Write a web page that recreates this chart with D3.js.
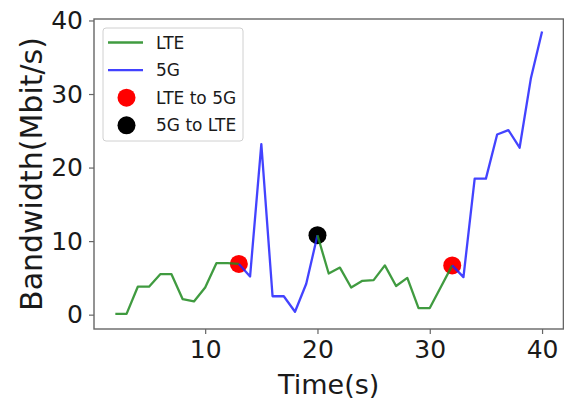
<!DOCTYPE html>
<html>
<head>
<meta charset="utf-8">
<script src="https://cdn.jsdelivr.net/npm/d3@7"></script>
<style>
  html, body { margin: 0; padding: 0; background: #fff; }
  svg { display: block; font-family: "DejaVu Sans", sans-serif; }
</style>
</head>
<body>
<svg id="chart" width="564" height="399"></svg>
<script>
// Data
const times = [2, 3, 4, 5, 6, 7, 8, 9, 10, 11, 12, 13, 14, 15, 16, 17, 18, 19, 20, 21,
  22, 23, 24, 25, 26, 27, 28, 29, 30, 31, 32, 33, 34, 35, 36, 37, 38, 39, 40];
const bandwidth = [0.1, 0.1, 3.8, 3.8, 5.5, 5.5, 2.1, 1.8, 3.7, 7.0, 7.0, 6.9, 5.2, 23.2, 2.5, 2.5, 0.4, 4.2, 10.8, 5.6,
  6.4, 3.7, 4.6, 4.7, 6.7, 3.9, 5.0, 0.9, 0.9, 3.8, 6.7, 5.1, 18.5, 18.5, 24.5, 25.1, 22.7, 32.1, 38.5];
// network in use when each sample was taken
const network = [
  "LTE", "LTE", "LTE", "LTE", "LTE", "LTE", "LTE", "LTE", "LTE", "LTE", "LTE", "LTE",
  "5G", "5G", "5G", "5G", "5G", "5G", "5G",
  "LTE", "LTE", "LTE", "LTE", "LTE", "LTE", "LTE", "LTE", "LTE", "LTE", "LTE", "LTE",
  "5G", "5G", "5G", "5G", "5G", "5G", "5G", "5G"];
const lteTo5gTimes = [13, 32];
const fiveGToLteTimes = [20];
const xTicks = [10, 20, 30, 40];
const yTicks = [0, 10, 20, 30, 40];

const colors = { "LTE": "#1f8a1f", "5G": "#2222ff" };

const svg = d3.select("#chart");
const plotL = 94, plotR = 563.4, plotT = 19, plotB = 329;

const x = d3.scaleLinear([0.1, 41.9], [plotL, plotR]);
const y = d3.scaleLinear([-1.95, 40.2], [plotB, plotT]);

const pts = times.map((t, i) => ({ t, v: bandwidth[i], net: network[i] }));

// transition markers (under the lines, like matplotlib's zorder)
const valueAt = t => bandwidth[times.indexOf(t)];
svg.append("g").selectAll("circle").data(lteTo5gTimes).join("circle")
  .attr("cx", d => x(d)).attr("cy", d => y(valueAt(d))).attr("r", 9).attr("fill", "#ff0000");
svg.append("g").selectAll("circle").data(fiveGToLteTimes).join("circle")
  .attr("cx", d => x(d)).attr("cy", d => y(valueAt(d))).attr("r", 9).attr("fill", "#000");

// split the series into runs; each segment takes the colour of its end point
const runs = [];
for (let i = 1; i < pts.length; i++) {
  const net = pts[i].net;
  const last = runs[runs.length - 1];
  if (last && last.net === net) last.pts.push(pts[i]);
  else runs.push({ net, pts: [pts[i - 1], pts[i]] });
}
const line = d3.line().x(d => x(d.t)).y(d => y(d.v));
svg.append("g").selectAll("path").data(runs).join("path")
  .attr("d", d => line(d.pts))
  .attr("fill", "none").attr("stroke", d => colors[d.net])
  .attr("stroke-width", 2.3).attr("stroke-linejoin", "round").attr("opacity", 0.85);

// frame
svg.append("rect").attr("x", plotL).attr("y", plotT)
  .attr("width", plotR - plotL).attr("height", plotB - plotT)
  .attr("fill", "none").attr("stroke", "#666").attr("stroke-width", 1.4);

// axes
const xAxis = svg.append("g").attr("transform", `translate(0,${plotB})`)
  .call(d3.axisBottom(x).tickValues(xTicks).tickSize(5).tickPadding(6).tickFormat(d3.format("d")));
const yAxis = svg.append("g").attr("transform", `translate(${plotL},0)`)
  .call(d3.axisLeft(y).tickValues(yTicks).tickSize(5).tickPadding(6).tickFormat(d3.format("d")));
for (const ax of [xAxis, yAxis]) {
  ax.select(".domain").remove();
  ax.selectAll(".tick line").attr("stroke", "#666").attr("stroke-width", 1.2);
  ax.selectAll(".tick text").attr("font-family", "DejaVu Sans").attr("font-size", 25).attr("fill", "#1a1a1a");
}

// axis labels
svg.append("text").attr("x", (plotL + plotR) / 2).attr("y", 394)
  .attr("text-anchor", "middle").attr("font-size", 27).attr("fill", "#1a1a1a").text("Time(s)");
svg.append("text")
  .attr("transform", `translate(42,${(plotT + plotB) / 2}) rotate(-90)`)
  .attr("text-anchor", "middle").attr("font-size", 30).attr("fill", "#1a1a1a").text("Bandwidth(Mbit/s)");

// legend
const legend = svg.append("g").attr("transform", "translate(103,28)");
legend.append("rect").attr("width", 140).attr("height", 113).attr("rx", 3)
  .attr("fill", "#fff").attr("fill-opacity", 0.8).attr("stroke", "#d0d0d0");
const entries = [
  { label: "LTE", type: "line", color: colors["LTE"] },
  { label: "5G", type: "line", color: colors["5G"] },
  { label: "LTE to 5G", type: "dot", color: "#ff0000" },
  { label: "5G to LTE", type: "dot", color: "#000" }
];
entries.forEach((e, i) => {
  const cy = 14.5 + i * 27.6;
  if (e.type === "line") {
    legend.append("line").attr("x1", 5).attr("x2", 40).attr("y1", cy).attr("y2", cy)
      .attr("stroke", e.color).attr("stroke-width", 2.3).attr("opacity", 0.85);
  } else {
    legend.append("circle").attr("cx", 23.5).attr("cy", cy).attr("r", 9).attr("fill", e.color);
  }
  legend.append("text").attr("x", 53).attr("y", cy + 6)
    .attr("font-size", 17).attr("fill", "#1a1a1a").text(e.label);
});
</script>
</body>
</html>
